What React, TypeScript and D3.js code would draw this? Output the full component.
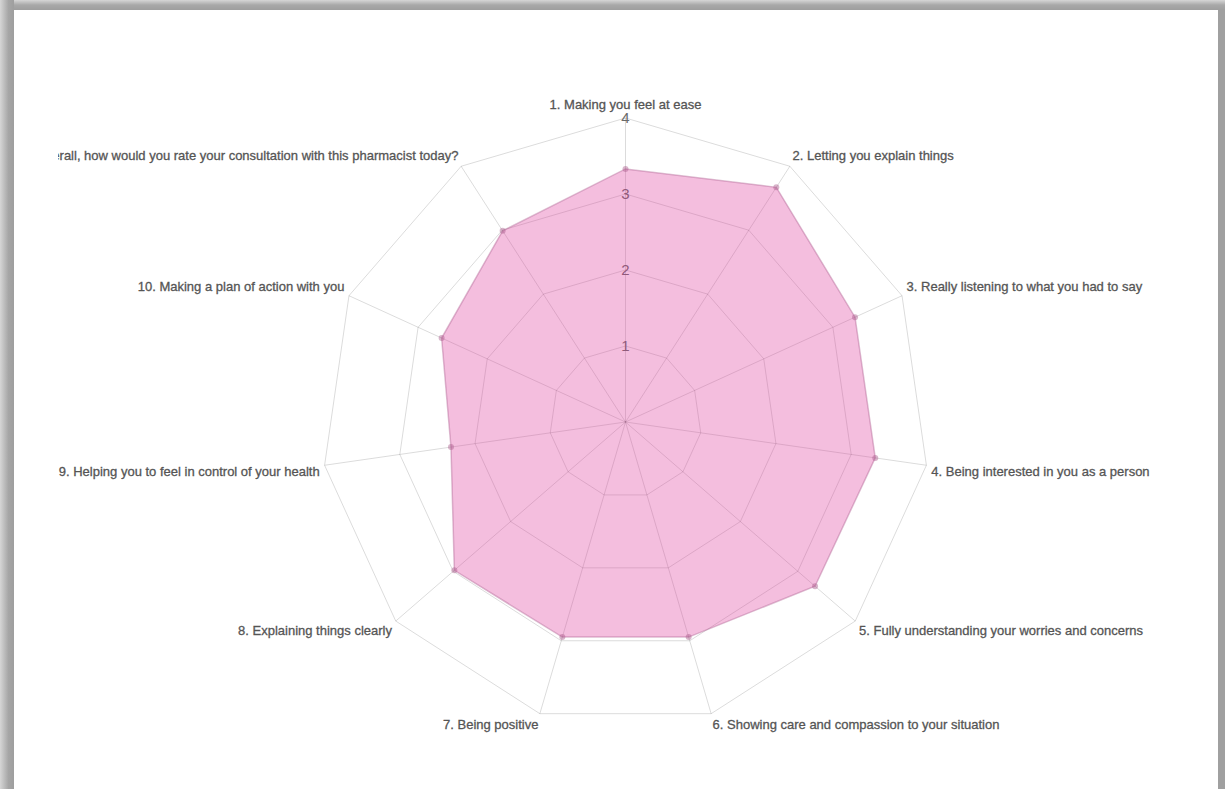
import React from "react";
import * as d3 from "d3";

// Survey statements shown around the radar (clockwise from the top)
const statements = [
  "1. Making you feel at ease",
  "2. Letting you explain things",
  "3. Really listening to what you had to say",
  "4. Being interested in you as a person",
  "5. Fully understanding your worries and concerns",
  "6. Showing care and compassion to your situation",
  "7. Being positive",
  "8. Explaining things clearly",
  "9. Helping you to feel in control of your health",
  "10. Making a plan of action with you",
  "11. Overall, how would you rate your consultation with this pharmacist today?",
];

// Mean rating per statement
const meanScores = [3.33, 3.67, 3.32, 3.32, 3.3, 2.95, 2.95, 2.98, 2.32, 2.66, 2.99];

// Radial scale ticks
const scaleTicks = [1, 2, 3, 4];
const scaleMax = 4;

const W = 1225;
const H = 789;
const cx = 625.5;
const cy = 422;
const R = 304;
const FONT = "'Liberation Sans', Arial, Helvetica, sans-serif";

export default function App() {
  const n = statements.length;
  const r = d3.scaleLinear().domain([0, scaleMax]).range([0, R]);
  const angle = (i: number) => (i / n) * Math.PI * 2;

  const ring = d3
    .lineRadial<number>()
    .angle((_d, i) => angle(i))
    .radius((d) => r(d))
    .curve(d3.curveLinearClosed);

  const polar = (i: number, dist: number): [number, number] => [
    cx + dist * Math.sin(angle(i)),
    cy - dist * Math.cos(angle(i)),
  ];

  const labelSize = 13;

  return (
    <div style={{ position: "fixed", left: 0, top: 0, width: W, height: H }}>
      <svg width={W} height={H} style={{ display: "block" }}>
        <defs>
          <linearGradient id="edgeL" x1="0" x2="1" y1="0" y2="0">
            <stop offset="0" stopColor="#d6d6d6" />
            <stop offset="0.6" stopColor="#a6a6a6" />
            <stop offset="1" stopColor="#9e9e9e" />
          </linearGradient>
          <linearGradient id="edgeT" x1="0" x2="0" y1="0" y2="1">
            <stop offset="0" stopColor="#d6d6d6" />
            <stop offset="0.5" stopColor="#a8a8a8" />
            <stop offset="1" stopColor="#9e9e9e" />
          </linearGradient>
          <clipPath id="canvasClip">
            <rect x={58} y={10} width={1136} height={H} />
          </clipPath>
        </defs>

        {/* framed panel */}
        <rect x={0} y={0} width={W} height={H} fill="#a0a0a0" />
        <rect x={0} y={0} width={W} height={10} fill="url(#edgeT)" />
        <rect x={0} y={0} width={14} height={H} fill="url(#edgeL)" />
        <rect x={14} y={10} width={1204} height={H} fill="#ffffff" />

        <g clipPath="url(#canvasClip)">
          {/* grid rings */}
          <g transform={`translate(${cx},${cy})`}>
            {scaleTicks.map((t) => (
              <path
                key={t}
                d={ring(new Array(n).fill(t)) || ""}
                fill="none"
                stroke="rgba(0,0,0,0.14)"
                strokeWidth={1}
              />
            ))}
          </g>
          {/* spokes */}
          {statements.map((_s, i) => {
            const [x, y] = polar(i, r(scaleMax));
            return (
              <line
                key={i}
                x1={cx}
                y1={cy}
                x2={x}
                y2={y}
                stroke="rgba(0,0,0,0.14)"
                strokeWidth={1}
              />
            );
          })}

          {/* tick labels */}
          {scaleTicks.map((t) => (
            <text
              key={t}
              x={cx}
              y={cy - r(t)}
              dy="0.35em"
              textAnchor="middle"
              fontFamily={FONT}
              fontSize={15}
              fill="#6a6a6a"
            >
              {t}
            </text>
          ))}

          {/* data polygon */}
          <g transform={`translate(${cx},${cy})`}>
            <path
              d={ring(meanScores) || ""}
              fill="rgba(222,58,155,0.33)"
              stroke="rgba(170,90,140,0.4)"
              strokeWidth={1.5}
            />
          </g>
          {meanScores.map((v, i) => {
            const [x, y] = polar(i, r(v));
            return (
              <circle key={i} cx={x} cy={y} r={3} fill="rgba(170,90,140,0.45)" />
            );
          })}

          {/* statement labels */}
          {statements.map((s, i) => {
            const deg = (angle(i) * 180) / Math.PI;
            const [x, y] = polar(i, r(scaleMax) + 5 + (i === 0 ? 2 : 0));
            let anchor: "start" | "middle" | "end" = "start";
            if (Math.abs(deg) < 1e-6 || Math.abs(deg - 180) < 1e-6) anchor = "middle";
            else if (deg > 180) anchor = "end";
            let top = y;
            if (Math.abs(deg - 90) < 1e-6 || Math.abs(deg - 270) < 1e-6) top = y - labelSize / 2;
            else if (deg > 270 || deg < 90) top = y - labelSize;
            return (
              <text
                key={i}
                x={x}
                y={top + 10.5}
                textAnchor={anchor}
                fontFamily={FONT}
                fontSize={labelSize}
                fill="#555"
                stroke="#555"
                strokeWidth={0.3}
              >
                {s}
              </text>
            );
          })}
        </g>
      </svg>
    </div>
  );
}
